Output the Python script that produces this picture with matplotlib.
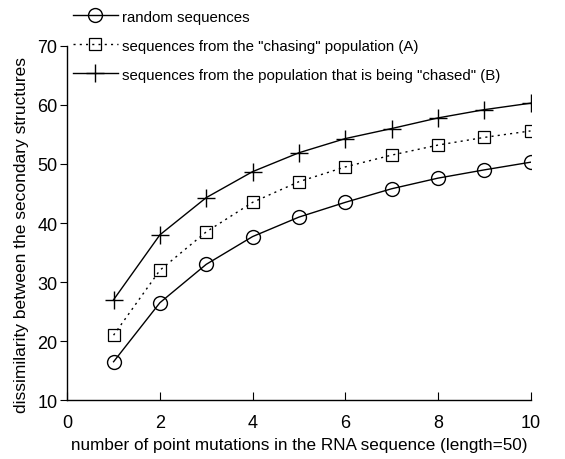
import matplotlib
matplotlib.use("Agg")
import matplotlib.pyplot as plt

mutations = [1, 2, 3, 4, 5, 6, 7, 8, 9, 10]
random_seq = [16.5, 26.5, 33.0, 37.7, 41.0, 43.5, 45.8, 47.6, 49.0, 50.3]
chasing_A = [21.0, 32.0, 38.5, 43.5, 47.0, 49.5, 51.5, 53.2, 54.5, 55.6]
chased_B = [27.0, 38.0, 44.3, 48.7, 51.9, 54.3, 56.0, 57.8, 59.2, 60.3]
labels = ['random sequences',
          'sequences from the "chasing" population (A)',
          'sequences from the population that is being "chased" (B)']
xticks = [0, 2, 4, 6, 8, 10]
yticks = [10, 20, 30, 40, 50, 60, 70]

plt.rcParams['font.family'] = ['Liberation Sans', 'DejaVu Sans']

fig = plt.figure(figsize=(5.65, 4.6), dpi=100)
ax = fig.add_axes([0.119, 0.128, 0.820, 0.770])

ax.plot(mutations, random_seq, color='black', lw=1.0, marker='o', ms=10,
        mfc='none', mec='black', mew=1.0, label=labels[0])
ax.plot(mutations, chasing_A, color='black', lw=1.0, ls=(0, (1.5, 3)), marker='s', ms=9,
        mfc='none', mec='black', mew=0.9, label=labels[1])
ax.plot(mutations, chased_B, color='black', lw=1.0, marker='+', ms=13,
        mec='black', mew=1.0, label=labels[2])

ax.set_xlim(0, 10)
ax.set_ylim(10, 70)
ax.set_xticks(xticks)
ax.set_yticks(yticks)
ax.tick_params(axis='x', direction='in', length=6, labelsize=13, pad=10)
ax.tick_params(axis='y', direction='out', length=5, labelsize=13, pad=2)
ax.spines['top'].set_visible(False)
ax.spines['right'].set_visible(False)
ax.spines['left'].set_linewidth(1.0)
ax.spines['bottom'].set_linewidth(1.0)

ax.set_xlabel('number of point mutations in the RNA sequence (length=50)', fontsize=12.3, labelpad=4)
ax.set_ylabel('dissimilarity between the secondary structures', fontsize=12.5, va='center')
ax.yaxis.set_label_coords(-0.099, 0.47)

leg = fig.legend(loc='upper left', bbox_to_anchor=(0.118, 0.99), frameon=False,
                 fontsize=10.8, handlelength=3.0, handletextpad=0.3,
                 labelspacing=1.0, borderaxespad=0)

fig.savefig('out.png', dpi=100)
